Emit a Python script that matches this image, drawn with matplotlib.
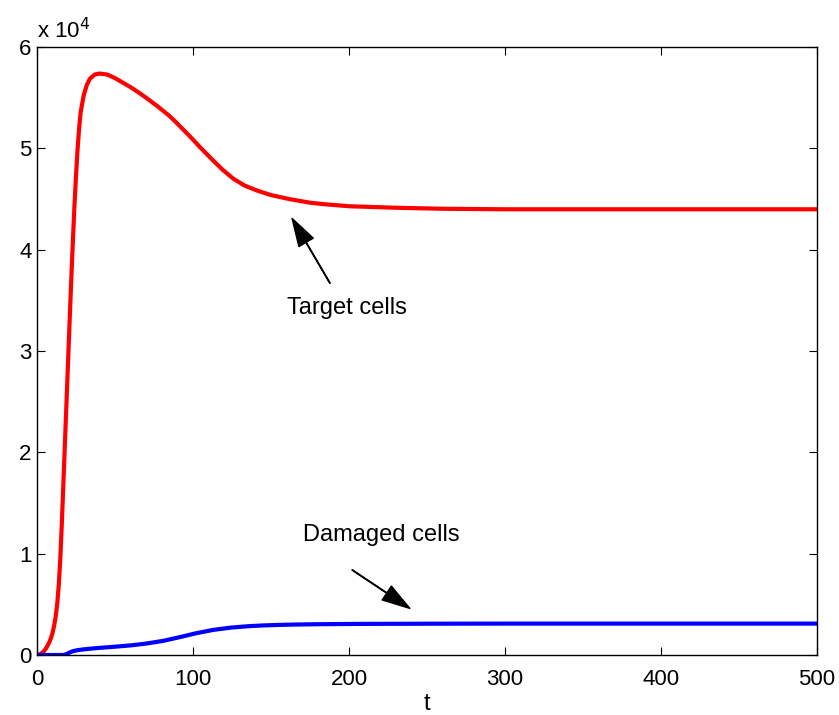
import matplotlib
matplotlib.use('Agg')
import matplotlib.pyplot as plt
from matplotlib.ticker import FuncFormatter
import numpy as np

# Target cells (red), values in cells
t_target = [0, 2, 4, 6, 8, 9, 10, 11, 12, 13, 14, 15, 16, 17, 18, 19, 20, 21,
            22, 23, 24, 25, 26, 27, 28, 30, 32, 34, 37, 40, 45, 50, 55, 60, 65,
            70, 77, 85, 90, 98, 105, 112, 119, 126, 133, 141, 150, 162, 175,
            184, 200, 230, 260, 300, 400, 500]
target = [0, 80, 300, 700, 1300, 1700, 2200, 2900, 3800, 5100, 7000, 9700,
          13300, 17300, 21300, 25300, 29300, 33300, 37200, 40900, 44300, 47300,
          49900, 52000, 53600, 55300, 56300, 56900, 57300, 57400, 57300, 56950,
          56500, 56050, 55550, 55000, 54200, 53200, 52450, 51200, 50050, 48950,
          47900, 47000, 46350, 45850, 45400, 45000, 44650, 44500, 44300, 44150,
          44050, 44000, 44000, 44000]

# Damaged cells (blue)
t_damaged = [0, 10, 17, 19, 21, 23, 26, 30, 38, 50, 60, 70, 81, 92, 102, 113,
             124, 135, 145, 155, 166, 180, 207, 250, 300, 500]
damaged = [0, 0, 0, 100, 250, 380, 480, 560, 680, 820, 950, 1130, 1400, 1780,
           2150, 2480, 2700, 2840, 2920, 2970, 3010, 3040, 3070, 3090, 3100, 3100]

plt.rcParams['font.family'] = ['Liberation Sans', 'DejaVu Sans']

fig = plt.figure(figsize=(8.39, 7.15), dpi=100)
ax = fig.add_axes([0.0441, 0.0839, 0.9297, 0.8501])

ax.plot(t_target, target, color='red', lw=3)
ax.plot(t_damaged, damaged, color='blue', lw=3)

ax.set_xlim(0, 500)
ax.set_ylim(0, 60000)
ax.set_xticks([0, 100, 200, 300, 400, 500])
ax.set_yticks(np.arange(0, 60001, 10000))
ax.yaxis.set_major_formatter(FuncFormatter(lambda v, p: f'{v / 1e4:g}'))
ax.tick_params(direction='in', top=True, right=True, labelsize=16, length=6)
ax.tick_params(axis='x', pad=10)
ax.tick_params(axis='y', pad=4)
for s in ax.spines.values():
    s.set_linewidth(1.0)

ax.text(0.0, 1.006, r'x 10$^4$', transform=ax.transAxes, fontsize=16,
        ha='left', va='bottom')
ax.set_xlabel('t', fontsize=17, labelpad=2)

arrow = dict(facecolor='black', edgecolor='black', width=0.4, headwidth=12,
             headlength=20, shrink=0.0)
ax.text(198.7, 34300, 'Target cells', fontsize=17, ha='center', va='center')
ax.annotate('', xy=(163.5, 43100), xytext=(187.8, 36700), arrowprops=arrow)
ax.text(221, 11800, 'Damaged cells', fontsize=17, ha='center', va='center')
ax.annotate('', xy=(239, 4600), xytext=(202, 8400), arrowprops=arrow)

fig.savefig('out.png', dpi=100)
